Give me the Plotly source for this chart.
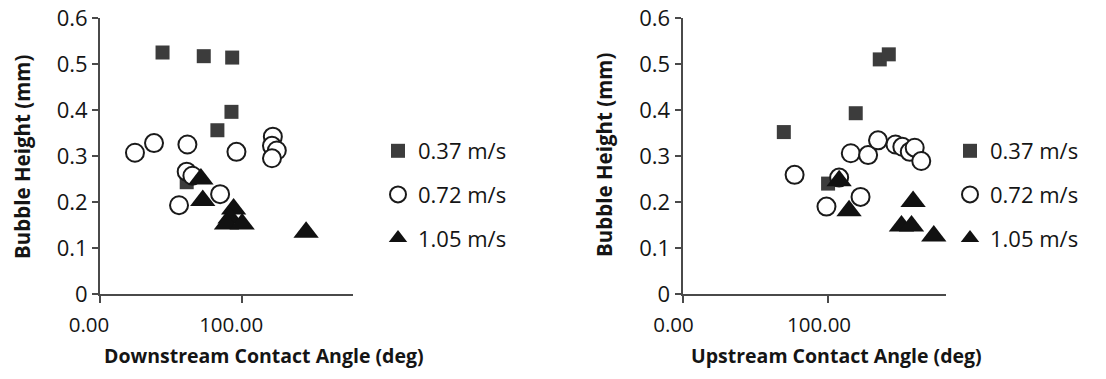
import plotly.graph_objects as go

# ---------------- data ----------------
series_names = ["0.37 m/s", "0.72 m/s", "1.05 m/s"]

# Downstream (left panel)
down_sq_x = [44, 73, 93, 92.5, 82.6, 61]
down_sq_y = [0.525, 0.517, 0.514, 0.396, 0.356, 0.243]
down_ci_x = [24.6, 38, 61.5, 96, 121.6, 121, 124.4, 121, 61, 65, 84.5, 55.6]
down_ci_y = [0.307, 0.328, 0.325, 0.309, 0.342, 0.322, 0.312, 0.295, 0.266, 0.257, 0.217, 0.193]
down_tr_x = [71, 72.3, 94, 91.5, 89, 100, 145]
down_tr_y = [0.250, 0.203, 0.185, 0.165, 0.152, 0.152, 0.134]

# Upstream (right panel)
up_sq_x = [69.6, 119, 135.5, 141.7, 100]
up_sq_y = [0.352, 0.393, 0.510, 0.521, 0.240]
up_ci_x = [77, 98.9, 115.6, 127.5, 134.3, 122.3, 107.6, 146.3, 151, 156.1, 159.5, 164]
up_ci_y = [0.259, 0.190, 0.306, 0.302, 0.334, 0.211, 0.253, 0.325, 0.320, 0.309, 0.318, 0.289]
up_tr_x = [107.6, 114.4, 158.4, 150.4, 157.3, 172.6]
up_tr_y = [0.246, 0.181, 0.201, 0.148, 0.148, 0.126]

y_ticks = [0, 0.1, 0.2, 0.3, 0.4, 0.5, 0.6]
y_ticktext = ["0", "0.1", "0.2", "0.3", "0.4", "0.5", "0.6"]
x_ticks = [0, 100]
x_ticktext = ["0.00", "100.00"]

FONT = "Open Sans"
AXC = "#4a4a4a"
TXT = "#151515"

fig = go.Figure()

styles = [
    dict(symbol="square", size=14, color="#3c3c3c", line=dict(width=0)),
    dict(symbol="circle", size=18, color="white", line=dict(width=2, color="#1a1a1a")),
    dict(symbol="triangle-up", size=22, color="#111111", line=dict(width=0)),
]

panels = [
    ([down_sq_x, down_ci_x, down_tr_x], [down_sq_y, down_ci_y, down_tr_y], "x", "y", "legend", "L"),
    ([up_sq_x, up_ci_x, up_tr_x], [up_sq_y, up_ci_y, up_tr_y], "x2", "y2", "legend2", "R"),
]
for xs, ys, xa, ya, lg, tag in panels:
    for i in range(3):
        fig.add_trace(go.Scatter(
            x=xs[i], y=ys[i], mode="markers", name=series_names[i],
            marker=styles[i], xaxis=xa, yaxis=ya, legend=lg,
            legendgroup=tag + str(i), cliponaxis=False,
        ))

ydom = [0.2243, 0.9525]
common_y = dict(range=[0, 0.6], tickvals=y_ticks, ticktext=y_ticktext, showgrid=False,
                zeroline=False, showline=True, linecolor=AXC, linewidth=2,
                ticks="outside", ticklen=6, tickcolor=AXC, tickwidth=1.5,
                tickfont=dict(family=FONT, size=22, color=TXT), domain=ydom,
                automargin=False)
common_x = dict(tickvals=x_ticks, ticktext=x_ticktext, showgrid=False, zeroline=False,
                showline=True, linecolor=AXC, linewidth=2, ticks="outside", ticklen=7,
                tickcolor=AXC, tickwidth=1.5, tickfont=dict(family=FONT, size=20.5, color=TXT),
                automargin=False, ticklabelstandoff=4)

LEG = dict(yanchor="top", xanchor="left", font=dict(family=FONT, size=22, color=TXT),
           tracegroupgap=12, bgcolor="rgba(0,0,0,0)")

fig.update_layout(
    width=1106, height=379,
    margin=dict(l=0, r=0, t=0, b=0),
    paper_bgcolor="white", plot_bgcolor="white",
    font=dict(family=FONT, color=TXT),
    xaxis=dict(common_x, domain=[100/1106, 353/1106], range=[0, 178], anchor="y",
               ticklabelshift=-11),
    yaxis=dict(common_y, anchor="x"),
    xaxis2=dict(common_x, domain=[682.5/1106, 946/1106], range=[0, 181], anchor="y2",
                ticklabelshift=-9),
    yaxis2=dict(common_y, anchor="x2"),
    legend=dict(LEG, x=378/1106, y=1-130/379),
    legend2=dict(LEG, x=950/1106, y=1-130/379),
    showlegend=True,
)

ann = [
    dict(text="<b>Bubble Height (mm)</b>", x=22/1106, y=1-157/379, textangle=-90, size=20.5),
    dict(text="<b>Bubble Height (mm)</b>", x=604/1106, y=1-155/379, textangle=-90, size=20.5),
    dict(text="<b>Downstream Contact Angle (deg)</b>", x=264/1106, y=1-355/379, size=19.5),
    dict(text="<b>Upstream Contact Angle (deg)</b>", x=836/1106, y=1-355/379, size=19.5),
]
for a in ann:
    sz = a.pop("size")
    fig.add_annotation(xref="paper", yref="paper", showarrow=False,
                       xanchor="center", yanchor="middle",
                       font=dict(family=FONT, size=sz, color=TXT), **a)

fig.write_html("out.html")
